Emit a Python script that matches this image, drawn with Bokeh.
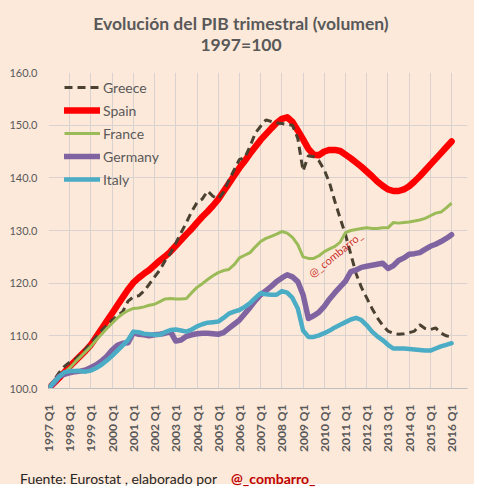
from bokeh.plotting import figure
from bokeh.models import (FixedTicker, NumeralTickFormatter, Legend, LegendItem,
                          Label, Range1d, ColumnDataSource, Div)
from bokeh.layouts import column
from bokeh.embed import file_html
from bokeh.resources import INLINE
import math

# ---------------- data (1997 Q1 .. 2016 Q1, quarterly, 1997 = 100) ----------------
greece = [
    100.0, 101.5, 103.0, 104.2,
    105.0, 105.5, 106.4, 107.5,
    108.6, 109.8, 111.0, 112.0,
    113.0, 113.8, 114.6, 116.6,
    117.4, 117.6, 118.5, 119.8,
    121.2, 122.5, 124.3, 125.7,
    127.6, 129.6, 131.5, 133.6,
    135.3, 136.0, 137.5, 136.5,
    136.0, 137.3, 139.5, 141.5,
    143.5, 143.8, 146.0, 148.5,
    149.8, 151.0, 150.7, 150.4,
    150.3, 150.1, 150.0, 147.5,
    141.3, 144.2, 144.0, 143.2,
    141.5, 139.0, 135.5, 132.3,
    129.2, 125.5, 121.8, 119.2,
    117.2, 115.2, 113.4, 112.0,
    110.9, 110.5, 110.3, 110.4,
    110.6, 110.9, 112.1, 111.4,
    111.2, 111.5, 110.5, 110.0,
    109.8,
]
spain = [
    100.0, 101.0, 102.0, 103.1,
    104.2, 105.2, 106.2, 107.2,
    108.3, 109.8, 111.3, 112.8,
    114.3, 115.8, 117.3, 118.8,
    120.1, 121.0, 121.8, 122.5,
    123.4, 124.3, 125.1, 126.0,
    127.1, 128.2, 129.3, 130.3,
    131.5, 132.6, 133.6, 134.7,
    135.9, 137.4, 138.9, 140.4,
    141.9, 143.2, 144.6, 145.9,
    147.2, 148.3, 149.4, 150.4,
    151.2, 151.5, 150.6, 149.0,
    147.3, 145.5, 144.4, 144.3,
    145.0, 145.3, 145.3, 145.1,
    144.4, 143.7, 142.9, 142.1,
    141.2, 140.3, 139.3, 138.5,
    137.8, 137.5, 137.5, 137.8,
    138.4, 139.3, 140.3, 141.4,
    142.5, 143.6, 144.7, 145.8,
    146.9,
]
france = [
    100.0, 100.9, 102.0, 103.0,
    103.9, 105.0, 106.0, 107.0,
    108.0, 109.2, 110.3, 111.4,
    112.4, 113.4, 114.2, 114.8,
    115.2, 115.3, 115.5, 115.8,
    116.0, 116.5, 117.0, 117.1,
    117.0, 117.0, 117.1, 118.2,
    119.2, 119.9, 120.7, 121.4,
    122.0, 122.4, 122.6, 123.5,
    124.8, 125.3, 125.8, 126.9,
    127.9, 128.5, 128.9, 129.3,
    129.8, 129.5, 128.7, 127.3,
    125.0, 124.7, 124.7, 125.2,
    126.0, 126.5, 127.0, 127.8,
    129.6, 130.0, 130.2, 130.4,
    130.5, 130.4, 130.4, 130.5,
    130.5, 131.5, 131.4, 131.5,
    131.6, 131.8, 132.0, 132.3,
    132.8, 133.3, 133.5, 134.3,
    135.2,
]
germany = [
    100.0, 101.0, 102.3, 102.7,
    103.0, 103.2, 103.3, 103.5,
    104.0, 104.5, 105.2, 106.1,
    107.3, 108.2, 108.6, 108.7,
    110.6, 110.3, 110.2, 110.0,
    110.2, 110.3, 110.5, 110.8,
    109.0, 109.2, 109.9, 110.2,
    110.4, 110.5, 110.5, 110.4,
    110.3, 110.6, 111.4, 112.2,
    113.0, 114.2, 115.4, 116.7,
    117.8, 118.6, 119.4, 120.3,
    121.0, 121.6, 121.2, 120.3,
    117.8, 113.3, 113.8, 114.5,
    115.6, 117.0, 118.2, 119.3,
    120.4, 122.2, 122.5, 123.0,
    123.2, 123.4, 123.6, 123.8,
    122.8, 123.3, 124.3, 124.8,
    125.5, 125.6, 125.8, 126.4,
    127.0, 127.4, 127.9, 128.5,
    129.2,
]
italy = [
    100.0, 101.2, 102.2, 103.1,
    103.3, 103.3, 103.3, 103.2,
    103.4, 103.9, 104.5, 105.3,
    106.2, 107.2, 108.2, 109.2,
    110.8, 110.7, 110.4, 110.3,
    110.2, 110.2, 110.7, 111.1,
    111.2, 111.0, 110.8, 111.2,
    111.8, 112.2, 112.5, 112.6,
    112.7, 113.4, 114.2, 114.6,
    114.9, 115.5, 116.2, 117.2,
    118.1, 117.9, 117.8, 117.8,
    118.5, 118.2, 117.2, 115.2,
    111.0, 109.8, 109.8, 110.1,
    110.5, 111.0, 111.6, 112.1,
    112.6, 113.1, 113.4, 113.0,
    112.0, 110.8, 109.9, 109.2,
    108.3, 107.6, 107.6, 107.6,
    107.5, 107.4, 107.3, 107.2,
    107.2, 107.6, 108.0, 108.3,
    108.6,
]
tick_labels = ["1997 Q1", "1998 Q1", "1999 Q1", "2000 Q1", "2001 Q1", "2002 Q1",
               "2003 Q1", "2004 Q1", "2005 Q1", "2006 Q1", "2007 Q1", "2008 Q1",
               "2009 Q1", "2010 Q1", "2011 Q1", "2012 Q1", "2013 Q1", "2014 Q1",
               "2015 Q1", "2016 Q1"]
y_ticks = [100, 110, 120, 130, 140, 150, 160]

# ---------------- styling ----------------
BG = "#FDE9D9"
GRID = "#D9D2CE"
TXT = "#595959"
FONT = "Lato"
W = 474

quarters = list(range(len(spain)))
tick_pos = [i * 4 for i in range(len(tick_labels))]

p = figure(width=W, height=392, output_backend="svg", toolbar_location=None,
           x_range=Range1d(0, 79), y_range=Range1d(100, 160),
           min_border_left=48, min_border_right=7, min_border_top=10,
           min_border_bottom=64, margin=0)
p.background_fill_color = BG
p.border_fill_color = BG
p.outline_line_color = None

p.xaxis.ticker = FixedTicker(ticks=tick_pos)
p.xaxis.major_label_overrides = {pos: lab for pos, lab in zip(tick_pos, tick_labels)}
p.xaxis.major_label_orientation = math.pi / 2
p.xaxis.major_label_text_font = FONT
p.xaxis.major_label_text_font_style = "bold"
p.xaxis.major_label_text_font_size = "12px"
p.xaxis.major_label_text_color = TXT
p.xaxis.major_tick_out = 0
p.xaxis.major_tick_in = 0
p.xaxis.major_label_standoff = 16
p.xaxis.major_tick_line_color = None
p.xaxis.minor_tick_line_color = None
p.xaxis.axis_line_color = "#BFBFBF"

p.yaxis.ticker = FixedTicker(ticks=y_ticks)
p.yaxis.formatter = NumeralTickFormatter(format="0.0")
p.yaxis.major_label_text_font = FONT
p.yaxis.major_label_text_font_size = "11px"
p.yaxis.major_label_text_color = TXT
p.yaxis.major_tick_out = 0
p.yaxis.major_tick_in = 0
p.yaxis.major_label_standoff = 11
p.yaxis.major_tick_line_color = None
p.yaxis.minor_tick_line_color = None
p.yaxis.axis_line_color = None

p.xgrid.ticker = FixedTicker(ticks=tick_pos)
p.xgrid.grid_line_color = GRID
p.ygrid.grid_line_color = GRID

src = ColumnDataSource(dict(q=quarters, greece=greece, spain=spain, france=france,
                            germany=germany, italy=italy))

r_spain = p.line("q", "spain", source=src, line_color="#FF0000", line_width=6.5,
                 line_join="round", line_cap="round")
r_greece = p.line("q", "greece", source=src, line_color="#4A4130", line_width=3,
                  line_dash="8 5")
r_france = p.line("q", "france", source=src, line_color="#9BBB59", line_width=3,
                  line_join="round")
r_germany = p.line("q", "germany", source=src, line_color="#8064A2", line_width=5.5,
                   line_join="round", line_cap="round")
r_italy = p.line("q", "italy", source=src, line_color="#4BACC6", line_width=4.5,
                 line_join="round", line_cap="round")

legend = Legend(items=[
    LegendItem(label="Greece", renderers=[r_greece]),
    LegendItem(label="Spain", renderers=[r_spain]),
    LegendItem(label="France", renderers=[r_france]),
    LegendItem(label="Germany", renderers=[r_germany]),
    LegendItem(label="Italy", renderers=[r_italy]),
], location=(16, 199))
legend.background_fill_alpha = 0
legend.border_line_color = None
legend.padding = 0
legend.margin = 0
legend.spacing = 3
legend.glyph_width = 36
legend.glyph_height = 20
legend.label_height = 20
legend.label_standoff = 3
legend.label_text_font = FONT
legend.label_text_font_size = "14px"
legend.label_text_color = TXT
p.add_layout(legend, "center")

# watermark
p.add_layout(Label(x=49.3, y=121.6, text="@_combarro_", angle=39, angle_units="deg",
                   text_font=FONT, text_font_size="11px", text_color="#C00000",
                   text_alpha=0.85, text_baseline="middle", text_align="left"))

# ---------------- title and footer ----------------
title_html = (
    '<div style="box-sizing:border-box;width:474px;padding:13px 0 0 8px;'
    'text-align:center;font-family:Lato;font-weight:bold;font-size:17.5px;'
    'line-height:21px;color:#595959;">'
    'Evolución del PIB trimestral (volumen)<br>1997=100</div>'
)
title_div = Div(text=title_html, width=W, height=62, margin=0,
                styles={"background-color": BG})

footer_html = (
    '<div style="position:relative;width:474px;height:30px;'
    'font-family:Lato;font-size:14px;line-height:20px;">'
    '<span style="position:absolute;left:20px;top:15px;color:#262626;">'
    'Fuente: Eurostat , elaborado por</span>'
    '<span style="position:absolute;left:231px;top:15px;color:#C00000;font-weight:bold;">'
    '@_combarro_</span></div>'
)
footer_div = Div(text=footer_html, width=W, height=30, margin=0,
                 styles={"background-color": BG})

page = column(title_div, p, footer_div, spacing=0, margin=0,
              styles={"background-color": BG})

open("out.html", "w").write(file_html(page, INLINE))
